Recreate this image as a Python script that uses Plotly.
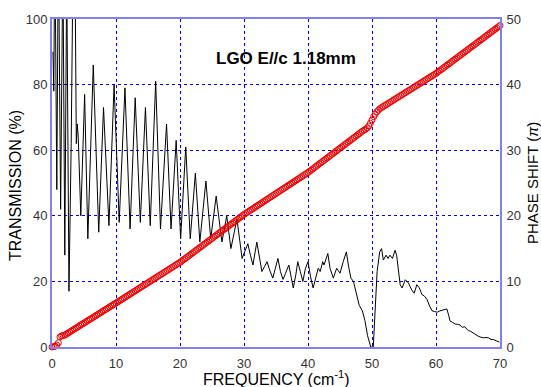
import plotly.graph_objects as go

# ---- Transmission (%) vs frequency (cm^-1) ----
trans_freq = [0.15, 0.22, 0.28, 0.45, 0.75, 1.0, 1.35, 1.7, 2.0, 2.3, 2.65, 3.0, 3.3, 3.6, 3.8, 3.95, 4.1, 4.5,
              5.1, 5.6, 6.45, 7.3, 8.05, 8.9, 9.7, 10.5, 11.4, 12.2, 13.0, 13.8, 14.6, 15.35, 16.2, 16.95,
              17.9, 18.6, 19.4, 20.1, 20.9, 21.6, 22.4, 23.1, 24.05, 24.8, 25.65, 26.55, 27.3, 27.95, 28.9,
              29.7, 30.6, 31.0, 31.4, 32.0, 32.4, 32.8, 33.2, 33.6, 34.0, 34.5, 34.9, 35.3, 35.7, 36.1, 36.5,
              37.0, 37.4, 37.7, 38.1, 38.4, 38.8, 39.2, 39.6, 40.0, 40.4, 40.8, 41.2, 41.6, 41.9, 42.3, 42.5,
              42.8, 43.1, 43.44, 43.96, 44.48, 45.0, 45.5, 46.0, 46.3, 46.7, 47.1, 47.5, 48.0, 48.5, 48.9,
              49.3, 49.6, 49.8, 50.2, 50.5, 50.8, 51.2, 51.5, 51.77, 52.2, 52.5, 52.8, 53.2, 53.6, 53.85, 54.1,
              54.4, 54.7, 55.2, 55.7, 56.2, 56.6, 57.0, 57.4, 57.8, 58.2, 58.6, 59.0, 59.4, 59.8, 60.2, 60.6,
              60.9, 61.3, 61.7, 62.0, 62.2, 62.6, 63.0, 63.4, 63.75, 64.1, 64.5, 64.8, 65.05, 65.4, 65.8, 66.2,
              66.6, 67.0, 67.4, 67.8, 68.2, 68.6, 68.95, 69.4, 69.9]
trans_vals = [90, 82, 78, 125, 48, 125, 42, 120, 28, 115, 17, 62, 120, 115, 62, 68, 64, 40,
              77, 33, 86, 35, 73, 37, 80, 38, 79, 36, 76, 38, 73, 37, 81, 36,
              68, 36, 63, 33, 61, 33, 53, 32, 50.6, 33, 46, 32, 40, 30, 39,
              27, 31.5, 28, 25, 32, 27, 23, 24.5, 26, 23.5, 21, 24, 27, 23, 20.6, 22.5,
              25, 21, 18, 22, 26, 23, 20, 24, 26, 21.5, 18, 21, 24, 23, 26, 25,
              27, 28.5, 24, 21, 24, 22.5, 26, 29, 25, 21, 20, 17, 12.7, 11, 8,
              3.5, 1, 0, 0, 10, 23, 29, 30, 26.5, 28, 27, 28, 27, 29.5, 28, 23,
              19, 18, 20.5, 19.5, 17.4, 16.4, 19, 18, 16, 15.5, 14.5, 12.5, 11, 10.8, 10.6, 11.0,
              11.2, 11.3, 11.6, 9.5, 7.9, 7.5, 7.0, 6.9, 6.7, 6.0, 6.2, 5.5, 5.0, 4.8, 4.3, 3.6,
              3.3, 3.0, 2.8, 2.9, 2.8, 2.3, 2.3, 1.9, 1.5]

# ---- Phase shift (units of pi), sampled every 0.25 cm^-1 from 0 to 70 ----
phase_freq = [i * 0.25 for i in range(281)]
phase_vals = [
    0.00, 0.05, 0.12, 0.30, 0.65, 1.55, 1.70, 1.75, 1.82,
    1.97, 2.12, 2.28, 2.43, 2.58, 2.74, 2.89, 3.04, 3.19, 3.38, 3.50, 3.65, 3.80, 3.96, 4.11, 4.26,
    4.40, 4.57, 4.72, 4.87, 5.03, 5.18, 5.33, 5.51, 5.64, 5.79, 5.94, 6.10, 6.25, 6.40, 6.55, 6.70,
    6.86, 7.01, 7.17, 7.32, 7.48, 7.63, 7.79, 7.94, 8.10, 8.25, 8.41, 8.56, 8.72, 8.87, 9.03, 9.18,
    9.34, 9.49, 9.65, 9.80, 9.96, 10.11, 10.27, 10.42, 10.58, 10.73, 10.89, 11.04, 11.20, 11.35,
    11.51, 11.66, 11.82, 11.97, 12.13, 12.28, 12.44, 12.59, 12.75, 12.90,
    13.08, 13.27, 13.45, 13.63, 13.81, 14.00, 14.18, 14.36, 14.54, 14.73, 14.91, 15.09, 15.27, 15.46,
    15.64, 15.82, 16.00, 16.19, 16.37, 16.55, 16.73, 16.92, 17.10, 17.28, 17.46, 17.65, 17.83, 18.01,
    18.19, 18.38, 18.56, 18.74, 18.92, 19.11, 19.29, 19.47, 19.65, 19.84, 20.02, 20.20,
    20.36, 20.52, 20.68, 20.84, 21.00, 21.16, 21.32, 21.48, 21.64, 21.80, 21.96, 22.12, 22.28, 22.44,
    22.60, 22.76, 22.92, 23.08, 23.24, 23.40, 23.56, 23.72, 23.88, 24.04, 24.20, 24.36, 24.52, 24.68,
    24.84, 25.00, 25.16, 25.32, 25.48, 25.64, 25.80, 25.96, 26.12, 26.28, 26.44, 26.60,
    26.79, 26.97, 27.16, 27.34, 27.53, 27.71, 27.90, 28.08, 28.27, 28.45, 28.64, 28.82, 29.01, 29.19,
    29.38, 29.56, 29.75, 29.93, 30.12, 30.30, 30.49, 30.67, 30.86, 31.04, 31.23, 31.41, 31.60, 31.78,
    31.97, 32.15, 32.34, 32.52, 32.71, 32.89,
    33.05, 33.20, 33.40, 33.70, 34.10, 34.60, 35.10, 35.50, 35.85, 36.10, 36.35,
    36.50, 36.66, 36.81, 36.96, 37.11, 37.27, 37.42, 37.57, 37.73, 37.88, 38.03, 38.18, 38.34, 38.49,
    38.64, 38.80, 38.95, 39.10, 39.25, 39.41, 39.56, 39.71, 39.87, 40.02, 40.17, 40.32, 40.48, 40.63,
    40.78, 40.94, 41.09, 41.24, 41.39, 41.55, 41.70,
    41.88, 42.07, 42.25, 42.43, 42.61, 42.80, 42.98, 43.16, 43.34, 43.53, 43.71, 43.89, 44.07, 44.26,
    44.44, 44.62, 44.80, 44.99, 45.17, 45.35, 45.53, 45.72, 45.90, 46.08, 46.26, 46.45, 46.63, 46.81,
    46.99, 47.18, 47.36, 47.54, 47.72, 47.91, 48.09, 48.27, 48.45, 48.64, 48.82, 49.00]

x_ticks = [0, 10, 20, 30, 40, 50, 60, 70]
y_ticks = [0, 20, 40, 60, 80, 100]
y2_ticks = [0, 10, 20, 30, 40, 50]

AXIS_COLOR = "#8080f0"
FONT = "Liberation Sans, Arial, sans-serif"

fig = go.Figure()
fig.add_trace(go.Scatter(x=trans_freq, y=trans_vals, mode="lines",
                         line=dict(color="black", width=1), yaxis="y", hoverinfo="skip"))
fig.add_trace(go.Scatter(x=phase_freq, y=phase_vals, mode="markers", yaxis="y2",
                         marker=dict(symbol="circle-open", size=6, color="#ee0000",
                                     line=dict(width=1, color="#ee0000")),
                         cliponaxis=False))

common = dict(showline=True, linecolor=AXIS_COLOR, linewidth=2, ticks="", zeroline=False,
              tickfont=dict(family=FONT, size=13, color="#333333"))

fig.update_layout(
    width=541, height=387,
    margin=dict(l=52, r=41, t=17, b=40),
    paper_bgcolor="white", plot_bgcolor="white",
    showlegend=False,
    font=dict(family=FONT),
    xaxis=dict(range=[0, 70], tickvals=x_ticks, showgrid=True, gridcolor="#0000ff",
               griddash="dot", gridwidth=1, mirror=True, ticklabelstandoff=3, **common),
    yaxis=dict(range=[0, 100], tickvals=y_ticks, showgrid=True, gridcolor="#0000ff",
               griddash="dot", gridwidth=1, **common),
    yaxis2=dict(range=[0, 50], tickvals=y2_ticks, overlaying="y", side="right",
                showgrid=False, ticklabelstandoff=2, **common),
    annotations=[
        dict(text="<b>LGO E//c 1.18mm</b>", xref="paper", yref="paper",
             x=(286 - 52) / 448, y=(347 - 45) / 330, showarrow=False,
             font=dict(family=FONT, size=17, color="black")),
        dict(text="FREQUENCY (cm<sup>-1</sup>)", xref="paper", yref="paper",
             x=0.5, y=0, yanchor="middle", yshift=-31, showarrow=False,
             font=dict(family=FONT, size=16, color="black")),
        dict(text="TRANSMISSION (%)", xref="paper", yref="paper",
             x=0, y=(347 - 185) / 330, xanchor="center", yanchor="middle", xshift=-36,
             textangle=-90, showarrow=False,
             font=dict(family=FONT, size=16, color="black")),
        dict(text="PHASE SHIFT (<i>π</i>)", xref="paper", yref="paper",
             x=1, y=(347 - 182) / 330, xanchor="center", yanchor="middle", xshift=32,
             textangle=-90, showarrow=False,
             font=dict(family=FONT, size=15, color="black")),
    ],
)

fig.write_html("out.html")
